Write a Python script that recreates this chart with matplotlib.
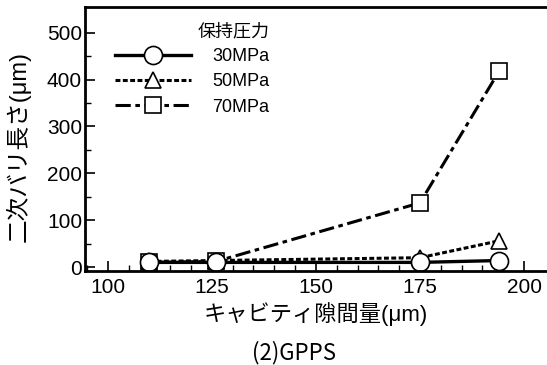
import matplotlib.pyplot as plt
import numpy as np

plt.rcParams['font.family'] = ['Liberation Sans', 'Noto Sans CJK JP', 'DejaVu Sans']

# キャビティ隙間量 (um)
gap = [110, 126, 175, 194]
# 二次バリ長さ (um)
p30 = [10, 10, 10, 14]
p50 = [12, 14, 20, 56]
p70 = [10, 12, 137, 418]
labels = ["30MPa", "50MPa", "70MPa"]

fig = plt.figure(figsize=(5.47, 3.65), dpi=100)
ax = fig.add_axes([0.155, 0.258, 0.845, 0.723])

mk = dict(markerfacecolor="white", markeredgecolor="black", markeredgewidth=1.2, color="black")
ax.plot(gap, p70, linestyle=(0, (5, 1.5, 1.5, 1.5)), linewidth=2.2, marker="s", markersize=12, label=labels[2], **mk)
ax.plot(gap, p50, linestyle=(0, (1.6, 0.8)), linewidth=2.2, marker="^", markersize=12, label=labels[1], **mk)
ax.plot(gap, p30, linestyle="-", linewidth=2.4, marker="o", markersize=13, label=labels[0], **mk)

ax.set_xlim(94.5, 205.5)
ax.set_ylim(-8, 555)
ax.set_xticks([100, 125, 150, 175, 200])
ax.set_xticks(np.arange(95, 205, 5), minor=True)
ax.set_yticks([0, 100, 200, 300, 400, 500])
ax.set_yticks(np.arange(0, 550, 50), minor=True)
ax.tick_params(which="major", direction="in", length=7, width=1.2, labelsize=15)
ax.tick_params(which="minor", direction="in", length=4, width=1.0)
ax.tick_params(axis="x", pad=5)
ax.tick_params(axis="y", pad=2)
ax.spines["right"].set_visible(False)
for s in ["left", "top", "bottom"]:
    ax.spines[s].set_linewidth(2)

ax.set_xlabel("キャビティ隙間量(μm)", fontsize=16, labelpad=4)
ax.set_ylabel("二次バリ長さ(μm)", fontsize=17)
ax.yaxis.set_label_coords(-0.117, 0.47)

h, l = ax.get_legend_handles_labels()
leg = ax.legend(h[::-1], l[::-1], title="保持圧力", loc="upper left", bbox_to_anchor=(0.03, 1.0),
                frameon=False, fontsize=13, title_fontsize=13, handlelength=4.2, handletextpad=1.2,
                labelspacing=0.45)
leg._legend_box.align = "right"

fig.text(0.537, 0.015, "(2)GPPS", ha="center", fontsize=16, family=["Noto Sans CJK JP"])

fig.savefig("out.png", dpi=100)
